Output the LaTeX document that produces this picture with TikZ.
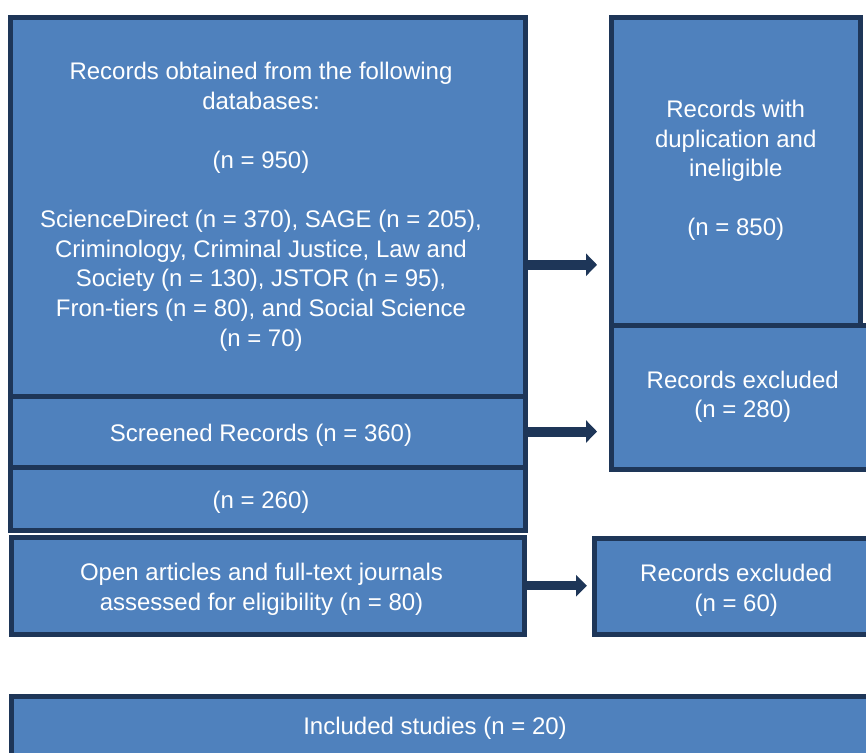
\documentclass[tikz,border=0pt]{standalone}
\usepackage{fontspec}
\setmainfont{Liberation Sans}
\usepackage{tikz}
\usetikzlibrary{arrows.meta,calc}

\definecolor{boxblue}{RGB}{79,129,189}
\definecolor{boxline}{RGB}{30,54,88}

\newcommand\linetop{\rule{0pt}{12.5pt}}
\newcommand\linebot{\rule[-0.212em]{0pt}{0pt}}
\newcommand\rpad{\rule{6.5pt}{0pt}}

\tikzset{
	stage/.style={draw=boxline, fill=boxblue, line width=2.5pt, text=white, align=center, inner sep=0pt,
		execute at begin node=\linetop, execute at end node=\linebot},
	flow/.style={draw=boxline, line width=5pt, -{Triangle[length=5.5pt,width=11pt]}}
}

\begin{document}
\begin{tikzpicture}[x=0.5pt,y=-0.5pt,font=\fontsize{12}{14.8}\selectfont]
		\useasboundingbox (0,0) rectangle (866,752);
		\clip (0,0) rectangle (866,752);
		
		\node[stage, minimum width=257.5pt, minimum height=189.25pt] (dbs) at (267.5,206.75) {Records obtained from the following\rpad\\databases:\rpad\\[14.8pt](n = 950)\rpad\\[14.8pt]ScienceDirect (n = 370), SAGE (n = 205),\rpad\\Criminology, Criminal Justice, Law and\rpad\\Society (n = 130), JSTOR (n = 95),\rpad\\Fron-tiers (n = 80), and Social Science\rpad\\(n = 70)\rpad};
		\node[stage, minimum width=257.5pt, minimum height=35.5pt] (screened) at (267.5,431.5) {Screened Records (n = 360)\rpad};
		\node[stage, minimum width=257.5pt, minimum height=31.5pt] (kept) at (267.5,498.5) {(n = 260)\rpad};
		\node[stage, minimum width=256.5pt, minimum height=48.75pt] (fulltext) at (268,585.75) {\linetop Open articles and full-text journals\rpad\\assessed for eligibility (n = 80)\rpad};
		
		\node[stage, minimum width=124.25pt, minimum height=153.75pt] (dupl) at (735.75,171.25) {\linetop Records with\\duplication and\\ineligible\\[14.8pt](n = 850)\rule[-7.1pt]{0pt}{0pt}};
		\node[stage, minimum width=131.25pt, minimum height=72pt] (excl1) at (742.75,397) {Records excluded\\(n = 280)};
		\node[stage, minimum width=141.75pt, minimum height=48.25pt] (excl2) at (736.25,586.25) {\linetop Records excluded\\(n = 60)};
		
		\node[stage, minimum width=439.5pt, minimum height=40pt] (incl) at (450.5,736) {};
		\node[text=white] (incltext) at (435,728) {Included studies (n = 20)};
		
		\draw[flow, shorten >=6pt] ($(dbs.east)+(0,58)$) -- ($(dbs.east)+(0,58)-(dbs.east)+(dupl.west|-dbs.east)$);
		\draw[flow, shorten >=6pt] (screened.east) -- (screened.east-|excl1.west);
		\draw[flow, line width=4.5pt, -{Triangle[length=5.5pt,width=10.5pt]}, shorten >=2.5pt] (fulltext.east) -- (fulltext.east-|excl2.west);
	\end{tikzpicture}
\end{document}
